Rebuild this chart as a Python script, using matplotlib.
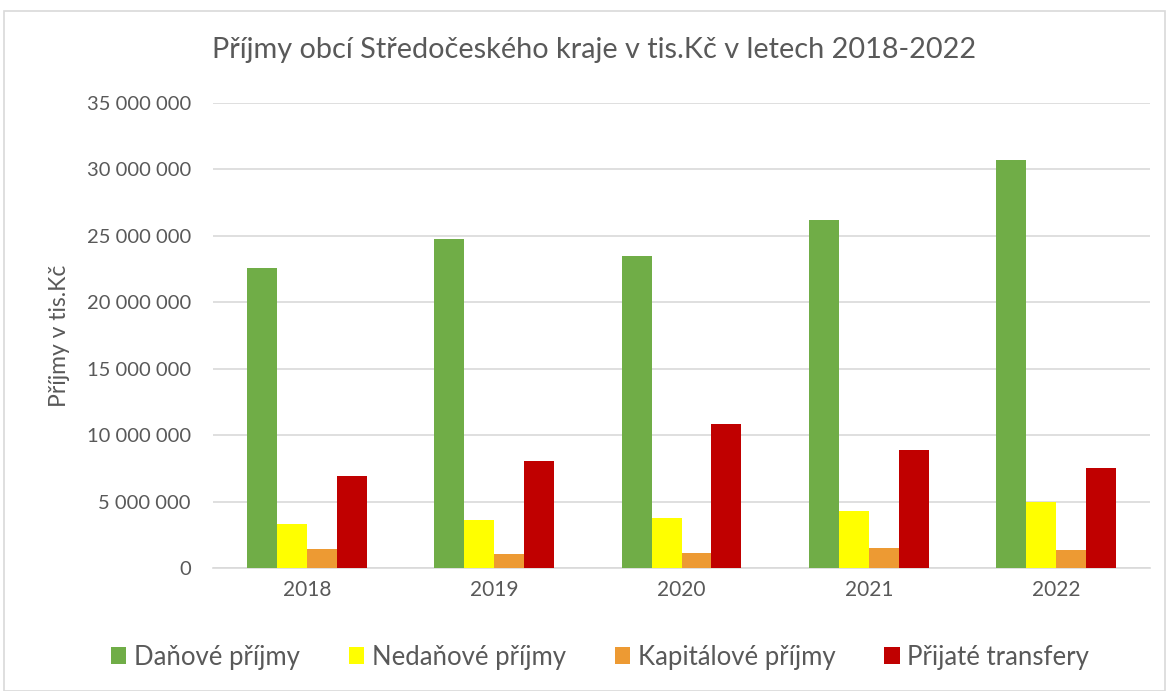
import matplotlib
matplotlib.use("Agg")
import matplotlib.pyplot as plt
import numpy as np
from matplotlib.ticker import FuncFormatter
from matplotlib.patches import Rectangle

years = ["2018", "2019", "2020", "2021", "2022"]
series_names = ["Daňové příjmy", "Nedaňové příjmy", "Kapitálové příjmy", "Přijaté transfery"]
danove = [22550000, 24740000, 23450000, 26170000, 30690000]
nedanove = [3310000, 3610000, 3730000, 4320000, 5000000]
kapitalove = [1420000, 1050000, 1160000, 1540000, 1390000]
transfery = [6890000, 8050000, 10810000, 8860000, 7550000]
colors = ["#70AD47", "#FFFF00", "#ED9A33", "#C00000"]

plt.rcParams['font.family'] = ['Lato', 'DejaVu Sans']

fig = plt.figure(figsize=(11.69, 6.91), dpi=100)
ax = fig.add_axes([213/1169, 1-568/691, (1150-213)/1169, (568-103)/691])

x = np.arange(len(years))
w = 0.16
data = [danove, nedanove, kapitalove, transfery]
for i, (vals, name, c) in enumerate(zip(data, series_names, colors)):
    ax.bar(x + (i - 1.5) * w, vals, width=w, color=c, label=name, zorder=3)

ax.set_ylim(0, 35000000)
ax.set_xlim(-0.5, len(years) - 0.5)
ax.set_yticks(np.arange(0, 35000001, 5000000))
ax.yaxis.set_major_formatter(FuncFormatter(lambda v, p: f"{int(v):,}".replace(",", " ")))
ax.set_xticks(x)
ax.set_xticklabels(years)
ax.tick_params(axis='both', length=0, colors="#595959")
ax.tick_params(axis='y', labelsize=14.5, pad=16)
ax.tick_params(axis='x', labelsize=15, pad=9)
ax.grid(axis='y', color="#d9d9d9", linewidth=1.2, zorder=0)
for s in ["top", "right", "left"]:
    ax.spines[s].set_visible(False)
ax.spines["bottom"].set_color("#d9d9d9")
ax.spines["bottom"].set_linewidth(1.2)

ax.set_ylabel("Příjmy v tis.Kč", fontsize=16.5, color="#595959", labelpad=12)
fig.text(594/1169, 1-50/691, "Příjmy obcí Středočeského kraje v tis.Kč v letech 2018-2022",
         ha="center", va="center", fontsize=20.8, color="#595959")

fig.legend(loc="center", bbox_to_anchor=(600/1169, 1-657/691), ncol=4, frameon=False,
           fontsize=18.5, labelcolor="#595959", handlelength=0.6, handleheight=0.6,
           handletextpad=0.3, columnspacing=1.9)

fig.patches.append(Rectangle((4/1169, 0.0), 1-8/1169, 1-11/691, transform=fig.transFigure,
                             fill=False, edgecolor="#d9d9d9", linewidth=1.2))

fig.savefig("out.png", dpi=100)
